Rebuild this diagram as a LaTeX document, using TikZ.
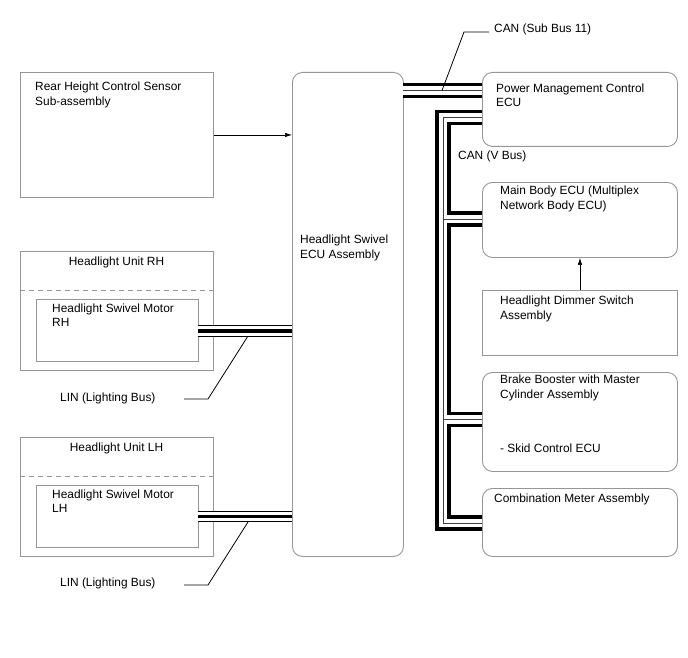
\documentclass[tikz,border=0pt]{standalone}
\usepackage{fontspec}
\setmainfont{Liberation Sans}
\usetikzlibrary{arrows.meta}
\definecolor{boxgray}{RGB}{150,150,150}
\begin{document}
\begin{tikzpicture}[x=1pt,y=-1pt,
  rbox/.style={draw=boxgray, line width=0.9pt, rounded corners=10pt, inner sep=0pt, anchor=north west},
  sbox/.style={draw=boxgray, line width=0.9pt, inner sep=0pt, anchor=north west},
  txt/.style={anchor=base west, inner sep=0pt, font=\fontsize{11.9}{14}\selectfont},
  ctxt/.style={anchor=base, inner sep=0pt, font=\fontsize{11.9}{14}\selectfont},
  dashline/.style={draw=boxgray, line width=0.9pt, dash pattern=on 5pt off 4pt},
  arr/.style={draw=black, line width=0.6pt, -{Latex[length=7pt,width=4.5pt]}},
  leader/.style={draw=black, line width=0.8pt},
  canouter/.style={draw=black, line width=15.5pt, line join=miter},
  caninner/.style={draw=white, line width=8.5pt, line join=miter},
  cancenter/.style={draw=black!75, line width=0.8pt, line join=miter},
  linouter/.style={draw=black, line width=11.5pt},
  lininner/.style={draw=white, line width=9.5pt},
  lincenter/.style={draw=black, line width=3.6pt}
]
\useasboundingbox (0,0) rectangle (688,658);

% boxes
\node[sbox, minimum width=193pt, minimum height=125pt] (rear) at (20,72) {};
\node[rbox, minimum width=111pt, minimum height=484pt] (ecu) at (292,72) {};
\node[sbox, minimum width=193pt, minimum height=119pt] (unitrh) at (20,251) {};
\node[sbox, minimum width=162pt, minimum height=62pt] (motorrh) at (36,299) {};
\node[sbox, minimum width=193pt, minimum height=119pt] (unitlh) at (20,437) {};
\node[sbox, minimum width=162pt, minimum height=62pt] (motorlh) at (36,485) {};
\node[rbox, minimum width=195pt, minimum height=74pt] (pmc) at (482,72) {};
\node[rbox, minimum width=195pt, minimum height=75pt] (mainbody) at (482,182) {};
\node[sbox, minimum width=195pt, minimum height=65pt] (dimmer) at (482,290) {};
\node[rbox, minimum width=195pt, minimum height=99pt] (brake) at (482,372) {};
\node[rbox, minimum width=195pt, minimum height=68pt] (meter) at (482,488) {};

% dashed separators
\coordinate (drh) at (20,290);
\coordinate (dlh) at (20,476);
\draw[dashline] (drh) -- (unitrh.east |- drh);
\draw[dashline] (dlh) -- (unitlh.east |- dlh);

% texts
\node[txt] (t1a) at (35,90.3) {Rear Height Control Sensor};
\node[txt] (t1b) at (35,105.5) {Sub-assembly};
\node[txt] (t2a) at (300,243.3) {Headlight Swivel};
\node[txt] (t2b) at (300,258.3) {ECU Assembly};
\node[ctxt] (t3) at (116.5,265.3) {Headlight Unit RH};
\node[txt] (t4a) at (52,312.6) {Headlight Swivel Motor};
\node[txt] (t4b) at (52,326.3) {RH};
\node[txt] (t5) at (60,401.3) {LIN (Lighting Bus)};
\node[ctxt] (t6) at (116.5,451.3) {Headlight Unit LH};
\node[txt] (t7a) at (52,498.6) {Headlight Swivel Motor};
\node[txt] (t7b) at (52,512.3) {LH};
\node[txt] (t8) at (60,586.3) {LIN (Lighting Bus)};
\node[txt] (t9) at (494,32.6) {CAN (Sub Bus 11)};
\node[txt] (t10a) at (496,92.3) {Power Management Control};
\node[txt] (t10b) at (496,106.3) {ECU};
\node[txt] (t11) at (458,159.3) {CAN (V Bus)};
\node[txt] (t12a) at (500,194.3) {Main Body ECU (Multiplex};
\node[txt] (t12b) at (500,209.3) {Network Body ECU)};
\node[txt] (t13a) at (500,304.3) {Headlight Dimmer Switch};
\node[txt] (t13b) at (500,319.3) {Assembly};
\node[txt] (t14a) at (500,383.5) {Brake Booster with Master};
\node[txt] (t14b) at (500,398.5) {Cylinder Assembly};
\node[txt] (t14c) at (500,452.3) {- Skid Control ECU};
\node[txt] (t15) at (494,502.3) {Combination Meter Assembly};

% arrows
\draw[arr] (rear.east) -- (ecu.west |- rear.east);
\draw[arr] (dimmer.north) -- (mainbody.south);

% bus coordinates
\coordinate (sb) at (403,90.5);
\coordinate (vtop) at (443,117.5);
\coordinate (vb1) at (443,219);
\coordinate (vb2) at (443,419.5);
\coordinate (vbot) at (443,523);
\coordinate (lrh) at (198,330.8);
\coordinate (llh) at (198,516.3);

% CAN buses
\foreach \s in {canouter,caninner,cancenter}{
  \draw[\s] (sb) -- (pmc.west |- sb);
  \draw[\s] (pmc.west |- vtop) -- (vtop) -- (vbot) -- (meter.west |- vbot);
  \draw[\s] (vb1) -- (mainbody.west |- vb1);
  \draw[\s] (vb2) -- (brake.west |- vb2);
}
% LIN buses
\foreach \s in {linouter,lininner,lincenter}{
  \draw[\s] (lrh) -- (ecu.west |- lrh);
  \draw[\s] (llh) -- (ecu.west |- llh);
}

% leaders
\coordinate (ls0) at (442,90.5);
\coordinate (ls1) at (464,32);
\coordinate (ls2) at (489,32);
\draw[leader] (ls0) -- (ls1) -- (ls2);
\coordinate (lr0) at (248,336);
\coordinate (lr1) at (208,399);
\coordinate (lr2) at (184,399);
\draw[leader] (lr0) -- (lr1) -- (lr2);
\coordinate (ll0) at (248,522);
\coordinate (ll1) at (208,585);
\coordinate (ll2) at (184,585);
\draw[leader] (ll0) -- (ll1) -- (ll2);
\end{tikzpicture}
\end{document}
